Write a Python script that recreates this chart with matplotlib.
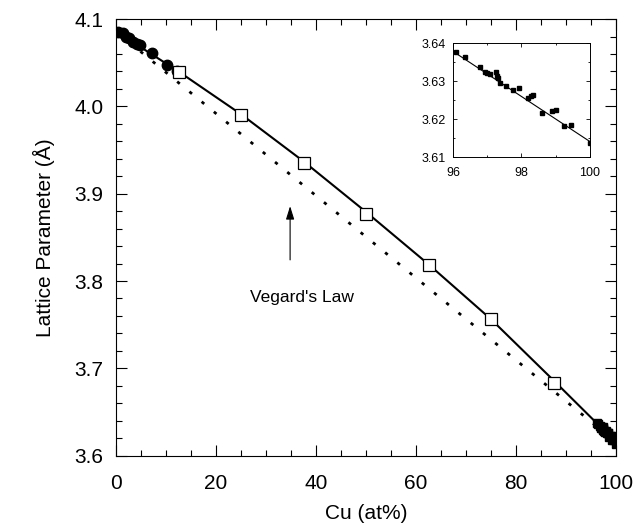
import numpy as np
import matplotlib
matplotlib.use("Agg")
import matplotlib.pyplot as plt
from matplotlib.ticker import MultipleLocator

plt.rcParams['font.family'] = ['Liberation Sans', 'DejaVu Sans']

# calculated alloys (open squares)
calc_cu = [12.5, 25, 37.5, 50, 62.5, 75, 87.5]
calc_a = [4.039, 3.990, 3.935, 3.877, 3.818, 3.756, 3.683]

# smooth curve through the calculated points
curve_cu = [0, 12.5, 25, 37.5, 50, 62.5, 75, 87.5, 100]
curve_a = [4.086, 4.040, 3.991, 3.937, 3.879, 3.819, 3.756, 3.686, 3.615]

# Vegard's law: straight line between pure Ag and pure Cu
vegard_cu = [0, 100]
vegard_a = [4.086, 3.615]

# measured, Ag-rich end
ag_cu = [0.4, 1.3, 2.0, 2.6, 3.4, 4.2, 4.8, 7.2, 10.2, 12.2]
ag_a = [4.085, 4.084, 4.080, 4.078, 4.074, 4.072, 4.070, 4.061, 4.048, 4.040]

# measured, Cu-rich end (also shown in the inset)
cu_cu = [96.08, 96.34, 96.78, 96.93, 97.0, 97.09, 97.27, 97.29, 97.31, 97.37,
         97.54, 97.74, 97.93, 98.20, 98.29, 98.34, 98.59, 98.88, 99.02,
         99.24, 99.46, 100.0]
cu_a = [3.6376, 3.6363, 3.6336, 3.6323, 3.6321, 3.6319, 3.6323, 3.6314,
        3.6307, 3.6294, 3.6287, 3.6276, 3.6283, 3.6256, 3.6261, 3.6263,
        3.6216, 3.6221, 3.6224, 3.6181, 3.6184, 3.6137]

# linear fit line in the inset
fit_cu = [96, 100]
fit_a = [3.6378, 3.6141]

fig = plt.figure(figsize=(6.34, 5.31), dpi=100)
ax = fig.add_axes([0.183, 0.142, 0.789, 0.822])

ax.plot(vegard_cu, vegard_a, color='black', lw=2, linestyle=(0, (1.2, 4.5)))
ax.plot(curve_cu, curve_a, color='black', lw=1.5)
ax.plot(ag_cu, ag_a, 'o', color='black', ms=7.5)
ax.plot(cu_cu, cu_a, 's', color='black', ms=6)
ax.plot(calc_cu, calc_a, 's', mfc='white', mec='black', mew=0.9, ms=9)

ax.annotate('', xy=(34.8, 3.889), xytext=(34.8, 3.821),
            arrowprops=dict(arrowstyle='-|>,head_length=0.8,head_width=0.25',
                            color='black', lw=0.8))
ax.text(37.2, 3.781, "Vegard's Law", ha='center', va='center', fontsize=12.5)

ax.set_xlim(0, 100)
ax.set_ylim(3.6, 4.1)
ax.xaxis.set_major_locator(MultipleLocator(20))
ax.xaxis.set_minor_locator(MultipleLocator(5))
ax.yaxis.set_major_locator(MultipleLocator(0.1))
ax.yaxis.set_minor_locator(MultipleLocator(0.02))
ax.tick_params(which='both', direction='in', top=True, right=True, labelsize=15)
ax.tick_params(which='major', length=8, width=0.8)
ax.tick_params(which='minor', length=4, width=0.8)
ax.tick_params(axis='x', pad=13)
ax.tick_params(axis='y', pad=9)
ax.set_xlabel('Cu (at%)', fontsize=15, labelpad=8)
ax.set_ylabel('Lattice Parameter (Å)', fontsize=15, labelpad=14)
for s in ax.spines.values():
    s.set_linewidth(0.8)

# inset: Cu-rich region
ins = fig.add_axes([0.7145, 0.704, 0.216, 0.215])
ins.plot(fit_cu, fit_a, color='black', lw=0.8)
ins.plot(cu_cu, cu_a, 's', color='black', ms=3.5)
ins.set_xlim(96, 100)
ins.set_ylim(3.61, 3.64)
ins.xaxis.set_major_locator(MultipleLocator(2))
ins.xaxis.set_minor_locator(MultipleLocator(1))
ins.yaxis.set_major_locator(MultipleLocator(0.01))
ins.yaxis.set_minor_locator(MultipleLocator(0.005))
ins.tick_params(which='both', direction='in', top=True, right=True, labelsize=9)
ins.tick_params(which='major', length=3, width=0.6)
ins.tick_params(which='minor', length=1.5, width=0.6)
ins.tick_params(axis='x', pad=7)
ins.tick_params(axis='y', pad=5)
for s in ins.spines.values():
    s.set_linewidth(0.7)

fig.savefig('out.png', dpi=100)
